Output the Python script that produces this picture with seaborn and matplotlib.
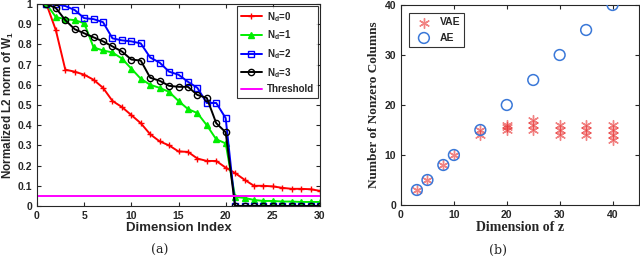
import matplotlib
matplotlib.use("Agg")
import matplotlib.pyplot as plt
from matplotlib.ticker import FuncFormatter
import numpy as np
import seaborn as sns

# ---- panel (a): normalized L2 norm of W1 per dimension index
dims = list(range(1, 31))
nd0 = [1.0, 0.87, 0.675, 0.665, 0.65, 0.625, 0.585, 0.52, 0.49, 0.45,
       0.41, 0.355, 0.32, 0.30, 0.27, 0.268, 0.235, 0.223, 0.223, 0.19,
       0.163, 0.13, 0.10, 0.10, 0.097, 0.09, 0.085, 0.085, 0.083, 0.075]
nd1 = [1.0, 0.935, 0.925, 0.92, 0.905, 0.785, 0.77, 0.76, 0.73, 0.68,
       0.63, 0.60, 0.585, 0.565, 0.52, 0.48, 0.46, 0.40, 0.33, 0.31,
       0.045, 0.04, 0.03, 0.025, 0.025, 0.022, 0.022, 0.02, 0.02, 0.02]
nd2 = [1.0, 0.998, 0.99, 0.97, 0.93, 0.925, 0.91, 0.83, 0.82, 0.815,
       0.805, 0.735, 0.71, 0.665, 0.65, 0.615, 0.585, 0.51, 0.51, 0.435,
       0, 0, 0, 0, 0, 0, 0, 0, 0, 0]
nd3 = [1.0, 0.98, 0.92, 0.875, 0.855, 0.835, 0.815, 0.79, 0.765, 0.725,
       0.72, 0.635, 0.62, 0.595, 0.59, 0.59, 0.55, 0.535, 0.41, 0.365,
       0, 0, 0, 0, 0, 0, 0, 0, 0, 0]
threshold = 0.05
series_labels = [r"N$_\mathregular{d}$=0", r"N$_\mathregular{d}$=1",
                 r"N$_\mathregular{d}$=2", r"N$_\mathregular{d}$=3"]

# ---- panel (b): number of nonzero columns vs dimension of z
vae_x = [3, 5, 8, 10, 15, 15, 20, 20, 20, 25, 25, 25, 30, 30, 30,
         35, 35, 35, 40, 40, 40, 40]
vae_y = [3, 5, 8, 10, 14, 15, 15, 15.5, 16, 15, 16, 17, 14, 15, 16,
         14, 15, 16, 13, 14, 15, 16]
ae_x = [3, 5, 8, 10, 15, 20, 25, 30, 35, 40]
ae_y = [3, 5, 8, 10, 15, 20, 25, 30, 35, 40]

sns.set_style("ticks")
plt.rcParams["font.family"] = ["Liberation Sans", "DejaVu Sans"]
plt.rcParams["font.weight"] = "bold"
plt.rcParams["xtick.direction"] = "in"
plt.rcParams["ytick.direction"] = "in"

fig = plt.figure(figsize=(6.4, 2.6), dpi=100)
ax1 = fig.add_axes([37 / 640, 1 - 206 / 260, 283 / 640, 202 / 260])
ax2 = fig.add_axes([401 / 640, 1 - 205 / 260, 238 / 640, 200 / 260])

styles = [("red", "+", 5), ("#00ee00", "^", 5), ("blue", "s", 4.5), ("black", "o", 4.5)]
for vals, lab, (col, mk, ms) in zip([nd0, nd1, nd2, nd3], series_labels, styles):
    sns.lineplot(x=dims, y=vals, ax=ax1, color=col, marker=mk, markersize=ms,
                 markerfacecolor="none" if mk in ("s", "o") else col,
                 markeredgecolor=col, markeredgewidth=1.0, linewidth=1.4, label=lab)
ax1.axhline(threshold, color="#ff00ff", linewidth=1.4, label="Threshold")
ax1.set_xlim(0, 30)
ax1.set_ylim(0, 1)
ax1.set_xticks([0, 5, 10, 15, 20, 25, 30])
ax1.set_yticks(np.linspace(0, 1, 11))
ax1.yaxis.set_major_formatter(FuncFormatter(
    lambda v, p: "0" if abs(v) < 1e-9 else ("1" if abs(v - 1) < 1e-9 else f"{v:.1f}")))
ax1.tick_params(labelsize=7.5, length=3, top=True, right=True, labelleft=True)
ax1.set_xlabel("Dimension Index", fontsize=9.5, fontweight="bold", labelpad=1)
ax1.set_ylabel(r"Normalized L2 norm of W$_\mathregular{1}$", fontsize=8.5, fontweight="bold", labelpad=1)
leg = ax1.legend(loc="upper right", frameon=True, fancybox=False,
                 edgecolor="black", borderaxespad=0.25, handlelength=2.2,
                 labelspacing=0.5, borderpad=0.35, handletextpad=0.5,
                 prop={"weight": "bold", "size": 7})
leg.get_frame().set_linewidth(0.8)

sns.scatterplot(x=vae_x, y=vae_y, ax=ax2, marker=(6, 2, 0), s=50, color="#e83030",
                alpha=0.6, linewidth=1.0, label="VAE", zorder=3)
sns.scatterplot(x=ae_x, y=ae_y, ax=ax2, marker="o", s=60, facecolor="none",
                edgecolor="#3a78d8", linewidth=1.1, label="AE", zorder=4)
ax2.set_xlim(0, 45)
ax2.set_ylim(0, 40)
ax2.set_xticks([0, 10, 20, 30, 40])
ax2.set_yticks([0, 10, 20, 30, 40])
ax2.tick_params(labelsize=7.5, length=3, top=True, right=True)
ax2.set_xlabel("Dimension of z", fontsize=10, fontweight="bold",
               family=["Liberation Serif", "DejaVu Serif"], labelpad=1)
ax2.set_ylabel("Number of Nonzero Columns", fontsize=9.5, fontweight="bold",
               family=["Liberation Serif", "DejaVu Serif"], labelpad=3)
leg2 = ax2.legend(loc="upper left", frameon=True, fancybox=False, edgecolor="black",
                  borderaxespad=0.8, prop={"weight": "bold", "size": 7.5},
                  handletextpad=0.5, labelspacing=0.5)
leg2.get_frame().set_linewidth(0.8)

for ax in (ax1, ax2):
    for sp in ax.spines.values():
        sp.set_linewidth(0.8)

fig.text(160 / 640, 1 - 250 / 260, "(a)", ha="center", va="center", fontsize=9,
         family=["DejaVu Serif"], fontweight="normal")
fig.text(498 / 640, 1 - 250 / 260, "(b)", ha="center", va="center", fontsize=9,
         family=["DejaVu Serif"], fontweight="normal")

fig.savefig("out.png", dpi=100)
